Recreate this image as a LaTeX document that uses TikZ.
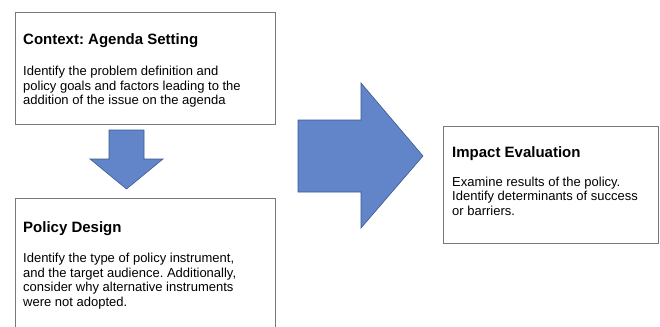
\documentclass[tikz,border=0pt]{standalone}
\usepackage{fontspec}
\setmainfont{Liberation Sans}
\frenchspacing
\definecolor{arrowblue}{RGB}{98,132,200}
\definecolor{arrowedge}{RGB}{60,90,145}
\definecolor{boxgray}{RGB}{120,120,120}
\begin{document}
\begin{tikzpicture}[x=1pt,y=-1pt,
  box/.style={draw=boxgray, line width=0.9pt, anchor=north west, inner sep=0pt, outer sep=0pt},
  ttl/.style={anchor=base west, inner sep=0pt, font=\fontsize{15}{17}\selectfont\bfseries},
  bodytext/.style={anchor=base west, inner sep=0pt, align=left, font=\fontsize{13}{14.5}\selectfont},
  bigarrow/.style={fill=arrowblue, draw=arrowedge, line width=0.6pt, line join=miter}]
\clip (0,0) rectangle (660,326);
\fill[white] (0,0) rectangle (660,326);
% boxes
\node[box, minimum width=260pt, minimum height=112pt] (b1) at (15,12) {};
\node[box, minimum width=260pt, minimum height=150pt] (b2) at (15,198) {};
\node[box, minimum width=215pt, minimum height=117pt] (b3) at (443,126) {};
% texts (body nodes anchored at the baseline of their last line)
\node[ttl] (t1) at (23,45) {Context: Agenda Setting};
\node[bodytext] (x1) at (23,105) {Identify the problem definition and\\policy goals and factors leading to the\\addition of the issue on the agenda};
\node[ttl] (t2) at (23,232) {Policy Design};
\node[bodytext] (x2) at (23,306) {Identify the type of policy instrument,\\and the target audience. Additionally,\\consider why alternative instruments\\were not adopted.};
\node[ttl] (t3) at (452,157) {Impact Evaluation};
\node[bodytext] (x3) at (452,215) {Examine results of the policy.\\Identify determinants of success\\or barriers.};
% arrows
\draw[bigarrow] (109,130) -- (144,130) -- (144,159) -- (163,159) -- (126.5,189) -- (90,159) -- (109,159) -- cycle;
\draw[bigarrow] (298,120) -- (361,120) -- (361,83) -- (423,156) -- (361,228) -- (361,192) -- (298,192) -- cycle;
\end{tikzpicture}
\end{document}
